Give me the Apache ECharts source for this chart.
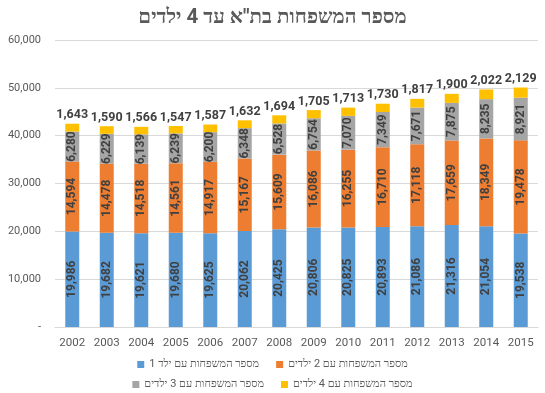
<!DOCTYPE html>
<html><head><meta charset="utf-8">
<script src="https://cdn.jsdelivr.net/npm/echarts@6/dist/echarts.min.js"></script>
<style>html,body{margin:0;padding:0;background:#fff}#c{width:545px;height:393px}</style>
</head><body><div id="c"></div>
<script>
const years = ['2002','2003','2004','2005','2006','2007','2008','2009','2010','2011','2012','2013','2014','2015'];
const names = ['מספר המשפחות עם ילד 1','מספר המשפחות עם 2 ילדים','מספר המשפחות עם 3 ילדים','מספר המשפחות עם 4 ילדים'];
const one = [19986,19682,19621,19680,19625,20062,20425,20806,20825,20893,21086,21316,21054,19538];
const two = [14594,14478,14518,14561,14917,15167,15609,16086,16255,16710,17118,17659,18349,19478];
const three = [6280,6229,6139,6239,6200,6348,6528,6754,7070,7349,7671,7875,8235,8921];
const four = [1643,1590,1566,1547,1587,1632,1694,1705,1713,1730,1817,1900,2022,2129];
const colors = ['#5B9BD5','#ED7D31','#A5A5A5','#FFC000'];
const FONT = 'Roboto';
const fmt = v => v.toLocaleString('en-US');
const chart = echarts.init(document.getElementById('c'));
function ser(i, data, top){
  return {
    name: names[i], type:'bar', stack:'a', data: data, barWidth: 14,
    itemStyle:{color: colors[i]},
    label: top ? {show:true, position:'top', distance:2, color:'#404040', fontSize:12.5, fontWeight:'bold', fontFamily:FONT, formatter:p=>fmt(p.value)}
               : {show:true, position:'inside', rotate:90, color:'#404040', fontSize:12, fontWeight:'bold', fontFamily:FONT, formatter:p=>fmt(p.value)}
  };
}
chart.setOption({
  animation:false,
  color: colors,
  title:{text:'מספר המשפחות בת"א עד 4 ילדים', left:'center', top:2, textStyle:{color:'#595959', fontSize:20.5, fontWeight:'bold', fontFamily:FONT}},
  legend:[
    {data:[names[0],names[1]], left:'center', top:354, itemWidth:7, itemHeight:7, itemGap:17, icon:'rect', textStyle:{color:'#595959', fontSize:11, fontFamily:FONT}},
    {data:[names[2],names[3]], left:'center', top:374, itemWidth:7, itemHeight:7, itemGap:17, icon:'rect', textStyle:{color:'#595959', fontSize:11, fontFamily:FONT}}
  ],
  grid:{left:55, right:7, top:40, bottom:66},
  xAxis:{type:'category', data:years, axisTick:{show:false}, axisLine:{lineStyle:{color:'#D9D9D9'}},
    axisLabel:{color:'#595959', fontSize:11.5, fontFamily:FONT, margin:10}},
  yAxis:{type:'value', min:0, max:60000, interval:10000, axisLine:{show:false}, axisTick:{show:false},
    splitLine:{lineStyle:{color:'#D9D9D9'}},
    axisLabel:{color:'#595959', fontSize:11, fontFamily:FONT, margin:14, formatter:v=> v===0 ? '-' : fmt(v)}},
  series:[ser(0,one), ser(1,two), ser(2,three), ser(3,four,true)]
});
</script></body></html>
